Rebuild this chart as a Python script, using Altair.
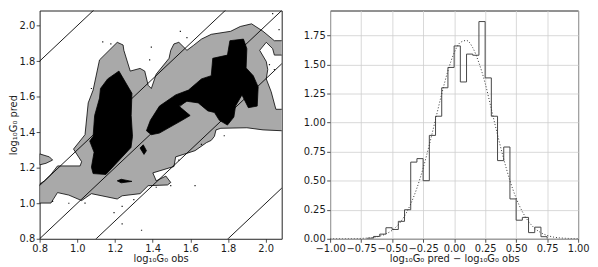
import altair as alt
import pandas as pd

# ---------------- left panel: contour regions (data coordinates) ----------------
gray_main_x = [0.800, 0.860, 0.895, 0.955, 1.023, 1.075, 1.212, 1.238, 1.333, 1.376,
               1.479, 1.496, 1.470, 1.419, 1.401, 1.513, 1.522, 1.625, 1.685, 1.711,
               1.728, 1.736, 1.762, 1.900, 1.986, 2.090,
               2.090, 2.054, 2.029, 2.003, 2.011, 2.003, 1.968, 2.003, 2.037, 2.046, 2.090, 2.090,
               2.046, 1.986, 1.925, 1.865, 1.814, 1.711, 1.659, 1.616, 1.582, 1.539,
               1.513, 1.496, 1.487, 1.419, 1.393, 1.376, 1.358, 1.333, 1.281, 1.247,
               1.243, 1.212, 1.118, 1.084, 1.058, 1.041, 0.980, 1.023, 1.015, 0.895,
               0.860, 0.826, 0.800]
gray_main_y = [1.001, 1.001, 1.060, 1.046, 1.015, 1.054, 1.024, 1.042, 1.054, 1.099,
               1.103, 1.117, 1.153, 1.126, 1.171, 1.207, 1.261, 1.296, 1.341, 1.354,
               1.377, 1.413, 1.422, 1.425, 1.413, 1.408,
               1.529, 1.529, 1.628, 1.700, 1.753, 1.798, 1.861, 1.906, 1.870, 1.834, 1.834, 1.915,
               1.915, 1.968, 2.010, 1.995, 1.968, 1.951, 1.924, 1.888, 1.861, 1.906,
               1.897, 1.861, 1.816, 1.727, 1.646, 1.664, 1.744, 1.759, 1.744, 1.861,
               1.891, 1.906, 1.807, 1.637, 1.565, 1.386, 1.305, 1.234, 1.210, 1.210,
               1.162, 1.126, 1.108]

gray_small_x = [0.800, 0.852, 0.869, 0.834, 0.800]
gray_small_y = [1.278, 1.261, 1.243, 1.225, 1.216]

black_left_x = [1.221, 1.290, 1.286, 1.293, 1.285, 1.152, 1.084, 1.075, 1.089, 1.066,
                1.084, 1.092, 1.118, 1.123, 1.161]
black_left_y = [1.744, 1.619, 1.494, 1.377, 1.314, 1.162, 1.167, 1.203, 1.287, 1.350,
                1.377, 1.494, 1.592, 1.646, 1.700]

black_right_x = [1.367, 1.388, 1.436, 1.522, 1.590, 1.659, 1.711, 1.719, 1.797, 1.810,
                 1.882, 1.900, 1.896, 1.934, 1.960, 1.955, 1.908, 1.874, 1.840, 1.831,
                 1.797, 1.754, 1.728, 1.693, 1.642, 1.582, 1.539, 1.599, 1.556, 1.436, 1.393]
black_right_y = [1.408, 1.467, 1.547, 1.610, 1.637, 1.700, 1.718, 1.816, 1.834, 1.915,
                 1.924, 1.870, 1.762, 1.718, 1.655, 1.547, 1.538, 1.610, 1.547, 1.485,
                 1.440, 1.467, 1.511, 1.520, 1.565, 1.574, 1.547, 1.494, 1.467, 1.395, 1.386]

black_diamond_x = [1.333, 1.350, 1.367, 1.354]
black_diamond_y = [1.311, 1.329, 1.296, 1.275]

black_sliver_x = [1.212, 1.233, 1.290, 1.233]
black_sliver_y = [1.126, 1.135, 1.123, 1.115]

# reference lines y = x + offset
line_offsets = [-1.0, -0.3, 0.0, 0.3, 1.0]

# scattered outlier points
dots_x = [2.037, 2.071, 1.547, 1.384, 1.178, 1.135, 1.393, 1.582, 2.046, 1.075,
          1.238, 1.195, 1.238, 1.341, 1.625, 1.496, 1.041, 0.869, 1.539, 1.419,
          1.659, 2.020, 0.955, 1.300, 1.780]
dots_y = [2.067, 1.977, 1.968, 1.807, 1.897, 1.909, 1.879, 1.933, 1.753, 1.646,
          0.983, 0.947, 0.884, 0.848, 1.099, 1.099, 1.001, 1.010, 1.243, 1.090,
          1.332, 1.780, 1.000, 1.020, 1.380]

# ---------------- right panel: histogram + fitted curve ----------------
hist_edges = [-0.70, -0.65, -0.60, -0.55, -0.50, -0.45, -0.40, -0.35, -0.30, -0.25,
              -0.20, -0.15, -0.10, -0.05, 0.00, 0.05, 0.10, 0.15, 0.20, 0.25,
              0.30, 0.35, 0.40, 0.45, 0.50, 0.55, 0.60, 0.65, 0.70, 0.75]
hist_values = [0.005, 0.02, 0.04, 0.095, 0.08, 0.15, 0.25, 0.66, 0.69, 0.50,
               0.89, 1.055, 1.30, 1.475, 1.66, 1.35, 1.59, 1.58, 1.87, 1.385,
               1.055, 0.673, 0.79, 0.343, 0.16, 0.184, 0.053, 0.10, 0.018]

curve_x = [-1.00, -0.90, -0.80, -0.75, -0.70, -0.65, -0.60, -0.55, -0.50, -0.45,
           -0.40, -0.35, -0.30, -0.25, -0.20, -0.15, -0.10, -0.05, 0.00, 0.05,
           0.10, 0.15, 0.20, 0.25, 0.30, 0.35, 0.40, 0.45, 0.50, 0.55,
           0.60, 0.65, 0.70, 0.75, 0.80, 0.85, 0.90, 0.95, 1.00]
curve_y = [0.000, 0.000, 0.001, 0.003, 0.006, 0.012, 0.023, 0.042, 0.073, 0.122,
           0.196, 0.300, 0.437, 0.608, 0.809, 1.028, 1.248, 1.446, 1.600, 1.690,
           1.707, 1.645, 1.514, 1.340, 1.117, 0.895, 0.686, 0.501, 0.350, 0.234,
           0.149, 0.090, 0.052, 0.029, 0.015, 0.008, 0.004, 0.002, 0.001]

FONT = "DejaVu Sans"
TXT = "#1a1a1a"


def poly_df(polys):
    rows = []
    for pid, (xs, ys) in enumerate(polys):
        for i, (a, b) in enumerate(zip(xs, ys)):
            rows.append({"id": pid, "i": i, "x": a, "y": b})
        rows.append({"id": pid, "i": len(xs), "x": xs[0], "y": ys[0]})
    return pd.DataFrame(rows)


gray_df = poly_df([(gray_main_x, gray_main_y), (gray_small_x, gray_small_y)])
black_df = poly_df([(black_left_x, black_left_y), (black_right_x, black_right_y),
                    (black_diamond_x, black_diamond_y), (black_sliver_x, black_sliver_y)])

lines_rows = []
for k, c in enumerate(line_offsets):
    for j, xv in enumerate([0.6, 2.3]):
        lines_rows.append({"id": k, "i": j, "x": xv, "y": xv + c})
lines_df = pd.DataFrame(lines_rows)

dots_df = pd.DataFrame({"x": dots_x, "y": dots_y})

LW, LH = 245, 231
xs_left = alt.Scale(domain=[0.8, 2.085], nice=False, zero=False)
ys_left = alt.Scale(domain=[0.8, 2.085], nice=False, zero=False)
ticks_left = [0.8, 1.0, 1.2, 1.4, 1.6, 1.8, 2.0]
x_left = alt.X("x:Q", scale=xs_left,
               axis=alt.Axis(values=ticks_left, tickCount=50, format=".1f",
                             title="log₁₀G₀ obs", grid=False))
y_left = alt.Y("y:Q", scale=ys_left,
               axis=alt.Axis(values=ticks_left, tickCount=50, format=".1f",
                             title="log₁₀G₀ pred", grid=False))

gray_layer = alt.Chart(gray_df).mark_line(
    fill="#a9a9a9", stroke="#000000", strokeWidth=0.8, clip=True
).encode(x=x_left, y=y_left, order="i:Q", detail="id:N")

black_layer = alt.Chart(black_df).mark_line(
    fill="#000000", stroke="#000000", strokeWidth=0.8, clip=True
).encode(x="x:Q", y="y:Q", order="i:Q", detail="id:N")

dots_layer = alt.Chart(dots_df).mark_square(
    size=1.5, color="#000000", opacity=0.9, clip=True
).encode(x="x:Q", y="y:Q")

lines_layer = alt.Chart(lines_df).mark_line(
    color="#000000", strokeWidth=0.9, clip=True
).encode(x="x:Q", y="y:Q", order="i:Q", detail="id:N")

left = alt.layer(gray_layer, black_layer, dots_layer, lines_layer).properties(width=LW, height=LH)

# right
step_rows = [{"i": 0, "x": hist_edges[0], "y": 0.0}]
n = 1
for k, v in enumerate(hist_values):
    step_rows.append({"i": n, "x": hist_edges[k], "y": v}); n += 1
    step_rows.append({"i": n, "x": hist_edges[k + 1], "y": v}); n += 1
step_rows.append({"i": n, "x": hist_edges[-1], "y": 0.0})
step_df = pd.DataFrame(step_rows)
curve_df = pd.DataFrame({"x": curve_x, "y": curve_y})

RW, RH = 251, 231
xs_right = alt.Scale(domain=[-1, 1], nice=False, zero=False)
ys_right = alt.Scale(domain=[0, 1.965], nice=False, zero=False)
x_right = alt.X("x:Q", scale=xs_right,
                axis=alt.Axis(values=[-1, -0.75, -0.5, -0.25, 0, 0.25, 0.5, 0.75, 1],
                              tickCount=50, format=".2f", grid=True,
                              title="log₁₀G₀ pred − log₁₀G₀ obs"))
y_right = alt.Y("y:Q", scale=ys_right,
                axis=alt.Axis(values=[0, 0.25, 0.5, 0.75, 1.0, 1.25, 1.5, 1.75],
                              tickCount=50, format=".2f", grid=True, title=None))

step_layer = alt.Chart(step_df).mark_line(
    color="#454545", strokeWidth=1.0, clip=True
).encode(x=x_right, y=y_right, order="i:Q")

curve_layer = alt.Chart(curve_df).mark_line(
    color="#333333", strokeWidth=1.0, strokeDash=[1, 2], interpolate="monotone", clip=True
).encode(x="x:Q", y="y:Q")

right = alt.layer(step_layer, curve_layer).properties(width=RW, height=RH)

chart = alt.hconcat(left, right, spacing=20).properties(
    padding={"left": 0, "top": 0, "right": 0, "bottom": 0}
).configure_view(
    stroke="#222222", strokeWidth=1
).configure_axis(
    domain=False,
    tickColor="#222222", tickSize=3.5, tickWidth=0.8,
    labelFont=FONT, labelFontSize=10, labelColor=TXT, labelPadding=1.5,
    labelOverlap=False, labelFlush=False,
    titleFont=FONT, titleFontSize=10, titleColor=TXT, titleFontWeight="normal",
    titlePadding=0,
    gridColor="#cfcfcf", gridWidth=0.8,
)

chart.save("out.html", embed_options={"renderer": "svg", "actions": False})
